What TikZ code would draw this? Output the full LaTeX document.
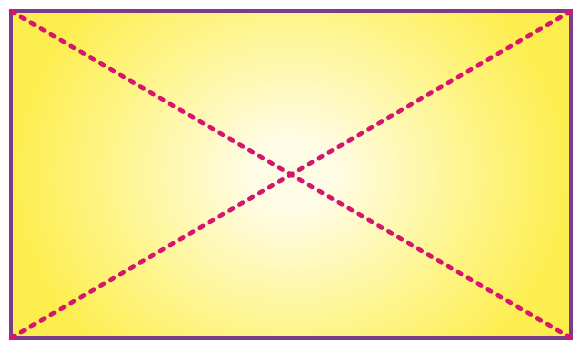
\documentclass[tikz,border=0pt]{standalone}
\usepackage{tikz}
\usetikzlibrary{calc}

\definecolor{frame}{HTML}{7D3C8A}
\definecolor{diag}{HTML}{D6166C}
\definecolor{sunin}{HTML}{FFFCE6}
\definecolor{sunmid}{HTML}{FEF590}
\definecolor{sunout}{HTML}{FDEE50}

\pgfdeclareradialshading{glow}{\pgfpoint{0bp}{0bp}}{%
  color(0bp)=(sunin); color(3bp)=(sunin); color(13bp)=(sunmid);
  color(21bp)=(sunout); color(50bp)=(sunout)}

\begin{document}
\begin{tikzpicture}[x=1pt,y=1pt,
  box/.style={draw=frame, line width=3.5pt},
  diagline/.style={draw=diag, line width=4.6pt, line cap=round, dash pattern=on 4pt off 7.5pt}]
  \useasboundingbox (0,0) rectangle (576,341);

  \coordinate (bl) at (11,3);
  \coordinate (tr) at (571,330);
  \coordinate (tl) at (11,330);
  \coordinate (br) at (571,3);
  \coordinate (mid) at (291,166.5);

  % glow fill
  \begin{scope}
    \clip (bl) rectangle (tr);
    \shade[shading=glow] ($(mid)+(-330,-290)$) rectangle ($(mid)+(330,290)$);
  \end{scope}
  \path[box] (bl) rectangle (tr);

  \draw[diagline] (tl) -- (br);
  \draw[diagline] (bl) -- (tr);
\end{tikzpicture}
\end{document}
